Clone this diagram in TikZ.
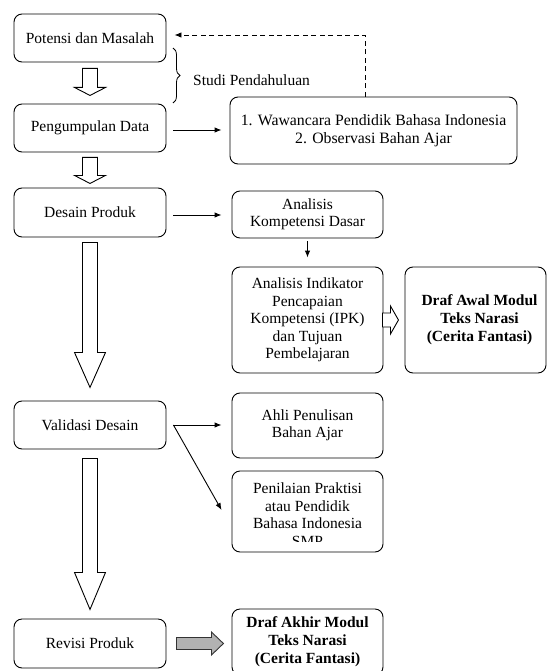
\documentclass[tikz,border=0pt]{standalone}
\usepackage{fontspec}
\setmainfont{Liberation Serif}
\usetikzlibrary{arrows.meta,calc,decorations.pathreplacing}
\newcommand\hdown[4]{%
  \draw[hollow] ($(#1.south)+(-7.5,#2)$) -- ($(#1.south)+(7.5,#2)$) -- ($(#1.south)+(7.5,#3)$) -- ($(#1.south)+(15.5,#3)$) -- ($(#1.south)+(0,#4)$) -- ($(#1.south)+(-15.5,#3)$) -- ($(#1.south)+(-7.5,#3)$) -- cycle;}
\begin{document}
\begin{tikzpicture}[x=1pt,y=-1pt,
  box/.style={draw, rounded corners=8pt, line width=0.9pt, align=center,
    font=\fontsize{15.5}{17.5}\selectfont, inner sep=0pt},
  mainbox/.style={box, minimum width=152pt, minimum height=48pt},
  colbox/.style={box, minimum width=151pt},
  txt/.style={align=center, font=\fontsize{15.5}{17.5}\selectfont, inner sep=0pt},
  hollow/.style={draw, line width=0.9pt, fill=white, line join=miter},
  arr/.style={line width=0.9pt, -{Latex[length=7pt,width=5.5pt]}},
]
\useasboundingbox (0,0) rectangle (547,671);
% main column
\node[mainbox] (pot) at (90,38) {Potensi dan Masalah};
\node[mainbox] (peng) at (90,128) {Pengumpulan Data};
\node[mainbox, minimum height=49pt] (des) at (90,212.5) {Desain Produk};
\node[mainbox] (val) at (90,425) {Validasi Desain};
\node[mainbox, minimum height=49pt] (rev) at (90,643.5) {Revisi Produk};
% right column
\node[box, minimum width=287pt, minimum height=67pt, font=\fontsize{15.8}{18}\selectfont] (waw) at (373.5,130.5)
  {1. Wawancara Pendidik Bahasa Indonesia\\2. Observasi Bahan Ajar};
\node[colbox, minimum height=47pt] (kd) at (307.5,214.5) {Analisis\\Kompetensi Dasar};
\node[colbox, minimum height=106pt] (ipk) at (307.5,320)
  {Analisis Indikator\\Pencapaian\\Kompetensi (IPK)\\dan Tujuan\\Pembelajaran};
\node[box, minimum width=141pt, minimum height=106pt, font=\fontsize{15.5}{18}\selectfont\bfseries] (awal) at (475.5,320)
  {\hspace*{8pt}Draf Awal Modul\\\hspace*{8pt}Teks Narasi\\\hspace*{8pt}(Cerita Fantasi)};
\node[colbox, minimum height=65pt] (ahli) at (307.5,425.5) {Ahli Penulisan\\Bahan Ajar};
\node[colbox, minimum height=81pt] (pen) at (307.5,511.5) {};
\begin{scope}
  \clip ($(pen.north west)+(2,2)$) rectangle ($(pen.south east)+(-2,-11)$);
  \node[txt] (pentxt) at ($(pen.center)+(0,3)$) {Penilaian Praktisi\\atau Pendidik\\Bahasa Indonesia\\SMP};
\end{scope}
\node[colbox, minimum height=66pt, font=\fontsize{15.5}{18}\selectfont\bfseries] (akhir) at (307.5,642)
  {Draf Akhir Modul\\Teks Narasi\\(Cerita Fantasi)};
% hollow down arrows
\hdown{pot}{6}{25}{33}
\hdown{peng}{5}{23}{31}
\hdown{des}{5}{115}{150}
\hdown{val}{9}{123}{160}
% brace and label
\coordinate (bt) at (173,48);
\coordinate (bb) at (173,103);
\draw[line width=0.8pt, decorate, decoration={brace, amplitude=7pt}] (bt) -- (bb);
\node[txt, anchor=west] (studi) at (193,80) {Studi Pendahuluan};
% dashed feedback
\coordinate (dtop) at (365,35);
\draw[line width=0.9pt, dash pattern=on 5pt off 3.5pt, -{Latex[length=7pt,width=5.5pt]}, shorten >=8pt]
  (waw.north -| dtop) -- (dtop) -- (pot.east |- dtop);
% thin arrows
\draw[arr] ($(peng.east)+(7,2)$) -- ($(waw.west)+(-8,-0.5)$);
\draw[arr] ($(des.east)+(7,2.5)$) -- ($(kd.west)+(-10,0.5)$);
\draw[arr] ($(kd.south)+(0,3)$) -- ($(ipk.north)+(0,-9)$);
\coordinate (vs) at ($(val.east)+(7,0)$);
\draw[arr] (vs) -- ($(ahli.west)+(-10,-0.5)$);
\draw[arr] (vs) -- ($(pen.west)+(-10,-1.5)$);
% hollow right arrow ipk -> awal
\draw[hollow] ($(ipk.east)+(-1,-7)$) -- ($(ipk.east)+(7,-7)$) -- ($(ipk.east)+(7,-14)$) -- ($(ipk.east)+(15,0)$)
  -- ($(ipk.east)+(7,14)$) -- ($(ipk.east)+(7,7)$) -- ($(ipk.east)+(-1,7)$) -- cycle;
% gray arrow rev -> akhir
\draw[line width=0.9pt, fill=gray!60, draw=black!80] ($(rev.east)+(10,-6)$) -- ($(rev.east)+(45,-6)$) -- ($(rev.east)+(45,-11.5)$)
  -- ($(rev.east)+(57,0)$) -- ($(rev.east)+(45,11.5)$) -- ($(rev.east)+(45,6)$) -- ($(rev.east)+(10,6)$) -- cycle;
\end{tikzpicture}
\end{document}
